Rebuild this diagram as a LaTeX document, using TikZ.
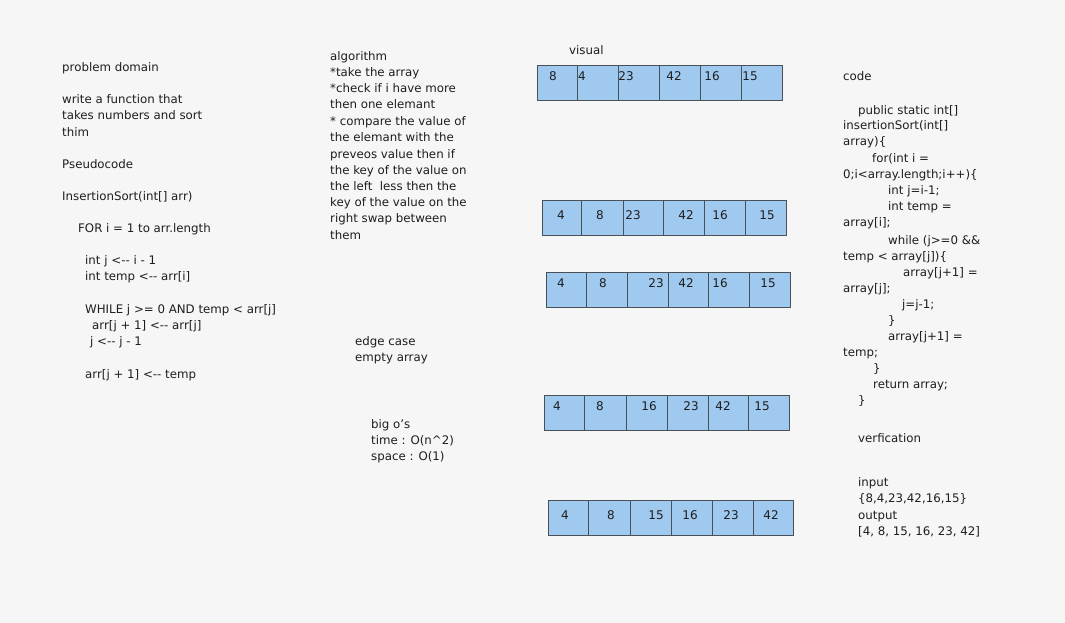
\documentclass[tikz,border=0pt]{standalone}
\usepackage{fontspec}
\setmainfont{DejaVu Sans}
\definecolor{bgc}{RGB}{246,246,246}
\definecolor{cellfill}{RGB}{160,201,240}
\definecolor{cellline}{RGB}{73,80,87}
\definecolor{ink}{RGB}{30,30,30}
\tikzset{
  txt/.style={anchor=base west, yshift=-4pt, inner sep=0pt, text=ink, font=\fontsize{11.8}{14}\selectfont},
  num/.style={anchor=base, yshift=-4.5pt, inner sep=0pt, text=ink, font=\fontsize{12}{14}\selectfont},
  cellbox/.style={draw=cellline, fill=cellfill, line width=1.1pt, inner sep=0pt, anchor=north west},
}
\begin{document}
\begin{tikzpicture}[x=1pt,y=-1pt]
\useasboundingbox[fill=bgc] (0,0) rectangle (1065,623);

% ---------- left column ----------
\node[txt] (p1) at (62,68) {problem domain};
\node[txt] (p2) at (62,100) {write a function that};
\node[txt] (p3) at (62,116) {takes numbers and sort};
\node[txt] (p4) at (62,132) {thim};
\node[txt] (p5) at (62,164) {Pseudocode};
\node[txt] (p6) at (62,196) {InsertionSort(int[] arr)};
\node[txt] (p7) at (78,228) {FOR i = 1 to arr.length};
\node[txt] (p8) at (85,260) {int j <-{}- i - 1};
\node[txt] (p9) at (85,276) {int temp <-{}- arr[i]};
\node[txt] (p10) at (85,309) {WHILE j >= 0 AND temp < arr[j]};
\node[txt] (p11) at (92,325) {arr[j + 1] <-{}- arr[j]};
\node[txt] (p12) at (90,341) {j <-{}- j - 1};
\node[txt] (p13) at (85,374) {arr[j + 1] <-{}- temp};

% ---------- algorithm ----------
\node[txt] (a1) at (330,57) {algorithm};
\node[txt] (a2) at (330,73) {*take the array};
\node[txt] (a3) at (330,89) {*check if i have more};
\node[txt] (a4) at (330,105) {then one elemant};
\node[txt] (a5) at (330,121) {* compare the value of};
\node[txt] (a6) at (330,138) {the elemant with the};
\node[txt] (a7) at (330,154) {preveos value then if};
\node[txt] (a8) at (330,170) {the key of the value on};
\node[txt] (a9) at (330,186) {the left\ \ less then the};
\node[txt] (a10) at (330,202) {key of the value on the};
\node[txt] (a11) at (330,218) {right swap between};
\node[txt] (a12) at (330,235) {them};

\node[txt] (e1) at (355,341) {edge case};
\node[txt] (e2) at (355,357) {empty array};

\node[txt] (b1) at (371,424) {big o's};
\node[txt] (b2) at (371,440) {time : O(n\^{}2)};
\node[txt] (b3) at (371,456) {space : O(1)};

% ---------- visual ----------
\node[txt] (v0) at (569,51) {visual};

% row 1
\foreach \i/\xa/\xb in {1/537/577,2/577/618,3/618/659,4/659/700,5/700/741,6/741/782}
  \node[cellbox, minimum width=\xb-\xa, minimum height=35] (r1c\i) at (\xa,65) {};
\foreach \i/\x/\t in {1/553/8,2/582/4,3/626/23,4/674/42,5/712/16,6/750/15}
  \node[num] (r1t\i) at (\x,76) {\t};

% row 2
\foreach \i/\xa/\xb in {1/542/581,2/581/623,3/623/663,4/663/704,5/704/745,6/745/786}
  \node[cellbox, minimum width=\xb-\xa, minimum height=35] (r2c\i) at (\xa,200) {};
\foreach \i/\x/\t in {1/561/4,2/600/8,3/633/23,4/686/42,5/720/16,6/767/15}
  \node[num] (r2t\i) at (\x,215) {\t};

% row 3
\foreach \i/\xa/\xb in {1/546/586,2/586/627,3/627/668,4/668/708,5/708/749,6/749/790}
  \node[cellbox, minimum width=\xb-\xa, minimum height=35] (r3c\i) at (\xa,272) {};
\foreach \i/\x/\t in {1/561/4,2/603/8,3/656/23,4/686/42,5/720/16,6/768/15}
  \node[num] (r3t\i) at (\x,283) {\t};

% row 4
\foreach \i/\xa/\xb in {1/544/584,2/584/626,3/626/667,4/667/708,5/708/748,6/748/789}
  \node[cellbox, minimum width=\xb-\xa, minimum height=35] (r4c\i) at (\xa,395) {};
\foreach \i/\x/\t in {1/557/4,2/600/8,3/649/16,4/691/23,5/723/42,6/762/15}
  \node[num] (r4t\i) at (\x,406) {\t};

% row 5
\foreach \i/\xa/\xb in {1/548/588,2/588/630,3/630/671,4/671/712,5/712/753,6/753/793}
  \node[cellbox, minimum width=\xb-\xa, minimum height=35] (r5c\i) at (\xa,500) {};
\foreach \i/\x/\t in {1/565/4,2/611/8,3/656/15,4/690/16,5/731/23,6/771/42}
  \node[num] (r5t\i) at (\x,515) {\t};

% ---------- code ----------
\node[txt] (c1) at (843,77) {code};
\node[txt] (c2) at (858,110) {public static int[]};
\node[txt] (c3) at (843,126) {insertionSort(int[]};
\node[txt] (c4) at (843,142) {array)\{};
\node[txt] (c5) at (872,158) {for(int i =};
\node[txt] (c6) at (843,174) {0;i<array.length;i++)\{};
\node[txt] (c7) at (888,190) {int j=i-1;};
\node[txt] (c8) at (888,206) {int temp =};
\node[txt] (c9) at (843,222) {array[i];};
\node[txt] (c10) at (888,240) {while (j>=0 \&\&};
\node[txt] (c11) at (843,256) {temp < array[j])\{};
\node[txt] (c12) at (903,272) {array[j+1] =};
\node[txt] (c13) at (843,288) {array[j];};
\node[txt] (c14) at (902,304) {j=j-1;};
\node[txt] (c15) at (888,320) {\}};
\node[txt] (c16) at (888,336) {array[j+1] =};
\node[txt] (c17) at (843,352) {temp;};
\node[txt] (c18) at (873,368) {\}};
\node[txt] (c19) at (873,384) {return array;};
\node[txt] (c20) at (858,400) {\}};
\node[txt] (c21) at (858,438) {verfication};
\node[txt] (c22) at (858,482) {input};
\node[txt] (c23) at (858,498) {\{8,4,23,42,16,15\}};
\node[txt] (c24) at (858,515) {output};
\node[txt] (c25) at (858,531) {[4, 8, 15, 16, 23, 42]};
\end{tikzpicture}
\end{document}
